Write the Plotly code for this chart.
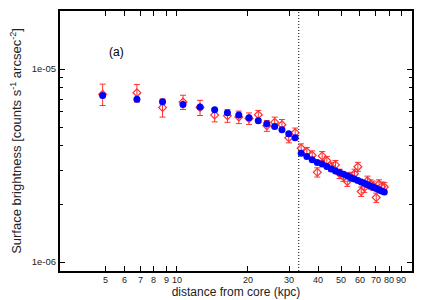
import math
import plotly.graph_objects as go

# distance from core (kpc)
distance = [4.84, 6.77, 8.70, 10.63, 12.56, 14.49, 16.42, 18.35, 20.28, 22.21,
            24.14, 26.07, 28.00, 29.93, 31.86, 33.79, 35.72, 37.65, 39.58, 41.51,
            43.44, 45.37, 47.30, 49.23, 51.16, 53.09, 55.02, 56.95, 58.88, 60.81,
            62.74, 64.67, 66.60, 68.53, 70.46, 72.39, 74.32, 76.25]

# model (blue filled circles), counts s^-1 arcsec^-2
model = [7.30e-6, 6.99e-6, 6.77e-6, 6.56e-6, 6.36e-6, 6.15e-6, 5.94e-6, 5.78e-6, 5.59e-6, 5.40e-6,
         5.21e-6, 5.04e-6, 4.85e-6, 4.62e-6, 4.41e-6, 3.67e-6, 3.53e-6, 3.39e-6, 3.28e-6, 3.22e-6,
         3.13e-6, 3.04e-6, 2.97e-6, 2.91e-6, 2.85e-6, 2.80e-6, 2.74e-6, 2.70e-6, 2.65e-6, 2.60e-6,
         2.56e-6, 2.52e-6, 2.48e-6, 2.44e-6, 2.41e-6, 2.37e-6, 2.34e-6, 2.31e-6]

# observed (red open diamonds) and their errors
observed = [7.42e-6, 7.54e-6, 6.32e-6, 6.75e-6, 6.32e-6, 5.78e-6, 5.73e-6, 5.64e-6, 5.55e-6, 5.80e-6,
            5.09e-6, 5.31e-6, 5.15e-6, 4.41e-6, 4.68e-6, 3.89e-6, 3.73e-6, 3.58e-6, 2.92e-6, 3.55e-6,
            3.35e-6, 3.12e-6, 3.19e-6, 2.87e-6, 2.77e-6, 2.62e-6, 2.77e-6, 2.87e-6, 3.12e-6, 2.32e-6,
            2.44e-6, 2.64e-6, 2.53e-6, 2.49e-6, 2.16e-6, 2.53e-6, 2.46e-6, 2.45e-6]
observed_err = [0.94e-6, 0.79e-6, 0.68e-6, 0.57e-6, 0.57e-6, 0.45e-6, 0.43e-6, 0.42e-6, 0.38e-6, 0.31e-6,
                0.33e-6, 0.33e-6, 0.33e-6, 0.26e-6, 0.27e-6, 0.21e-6, 0.20e-6, 0.19e-6, 0.16e-6, 0.19e-6,
                0.18e-6, 0.17e-6, 0.17e-6, 0.16e-6, 0.15e-6, 0.15e-6, 0.15e-6, 0.16e-6, 0.17e-6, 0.13e-6,
                0.14e-6, 0.15e-6, 0.14e-6, 0.14e-6, 0.12e-6, 0.14e-6, 0.14e-6, 0.14e-6]

boundary_kpc = 33.0

x_ticks = [5, 6, 7, 8, 9, 10, 20, 30, 40, 50, 60, 70, 80, 90]
x_ticktext = ["5", "6", "7", "8", "9", "10", "20", "30", "40", "50", "60", "70", "80", "90"]
y_major = [1e-6, 1e-5]
y_major_text = ["1e-06", "1e-05"]
y_minor = [2e-6, 3e-6, 4e-6, 5e-6, 6e-6, 7e-6, 8e-6, 9e-6, 2e-5]

y_lo, y_hi = 9e-7, 2e-5

FONT = "Liberation Sans, Arial, sans-serif"

fig = go.Figure()

fig.add_trace(go.Scatter(
    x=[boundary_kpc, boundary_kpc], y=[y_lo, y_hi], mode="lines",
    line=dict(color="black", width=1, dash="1px,2px"), showlegend=False, hoverinfo="skip"))

fig.add_trace(go.Scatter(
    x=distance, y=observed, mode="markers",
    marker=dict(symbol="diamond-open", size=6, color="#ff3030", line=dict(width=1.2, color="#ff3030")),
    error_y=dict(type="data", array=observed_err, color="#ff3030", thickness=1, width=3),
    showlegend=False))

fig.add_trace(go.Scatter(
    x=distance, y=model, mode="markers",
    marker=dict(symbol="circle", size=7, color="#0000ff", line=dict(width=0)),
    showlegend=False))

fig.update_xaxes(
    type="log", range=[0.5036, 2.0], automargin=False,
    tickmode="array", tickvals=x_ticks, ticktext=[""] * len(x_ticks), tickangle=0,
    ticks="inside", ticklen=5, tickwidth=1.2, tickcolor="black",
    showline=True, linecolor="black", linewidth=2, mirror="ticks",
    showgrid=False, zeroline=False,
    tickfont=dict(family=FONT, size=9, color="#222"),
    title=dict(text="distance from core (kpc)", standoff=14,
               font=dict(family=FONT, size=12, color="#222")))

# x tick labels as annotations placed through the x axis (log axis -> log10 positions)
for v, t in zip(x_ticks, x_ticktext):
    fig.add_annotation(text=t, xref="x", yref="paper", x=math.log10(v), y=0,
                       yanchor="top", yshift=-2, showarrow=False,
                       font=dict(family=FONT, size=9, color="#222"))

fig.update_yaxes(
    type="log", range=[-6.0458, -4.699], automargin=False,
    tickmode="array", tickvals=y_major, ticktext=y_major_text,
    ticks="inside", ticklen=5, tickwidth=1.2, tickcolor="black",
    minor=dict(tickmode="array", tickvals=y_minor, ticks="inside", ticklen=3,
               tickwidth=1, tickcolor="black", showgrid=False),
    showline=True, linecolor="black", linewidth=2, mirror="ticks",
    showgrid=False, zeroline=False,
    tickfont=dict(family=FONT, size=9.5, color="#222"),
    title=dict(text="Surface brightness [counts s<sup>-1</sup> arcsec<sup>-2</sup>]", standoff=9,
               font=dict(family=FONT, size=13, color="#222")))

fig.add_annotation(text="(a)", xref="paper", yref="paper", x=0.1335, y=0.877,
                   showarrow=False, font=dict(family=FONT, size=12, color="black"))

# page body has an 8px default margin: size/offset the figure so the plot area lands where the reference has it
fig.update_layout(
    width=420, height=292,
    margin=dict(l=52, r=16, t=3, b=28.5),
    paper_bgcolor="white", plot_bgcolor="white")

fig.write_html("out.html")
